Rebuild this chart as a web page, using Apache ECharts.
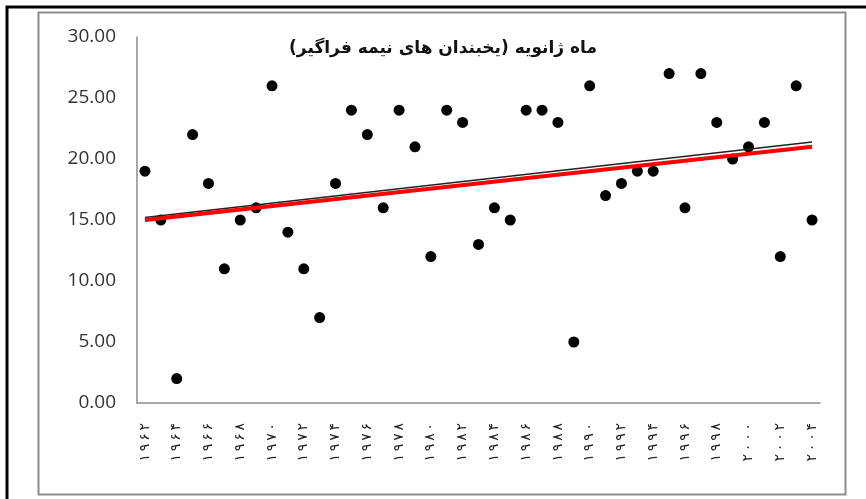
<!DOCTYPE html>
<html>
<head>
<meta charset="utf-8">
<script src="https://cdn.jsdelivr.net/npm/echarts@6/dist/echarts.min.js"></script>
<style>
  html, body { margin: 0; padding: 0; background: #fff; }
  #chart { width: 866px; height: 499px; }
</style>
</head>
<body>
<div id="chart"></div>
<script>
// years 1962..2004 in Persian digits
const years = [
  '۱۹۶۲', '۱۹۶۳', '۱۹۶۴', '۱۹۶۵', '۱۹۶۶', '۱۹۶۷', '۱۹۶۸', '۱۹۶۹', '۱۹۷۰', '۱۹۷۱',
  '۱۹۷۲', '۱۹۷۳', '۱۹۷۴', '۱۹۷۵', '۱۹۷۶', '۱۹۷۷', '۱۹۷۸', '۱۹۷۹', '۱۹۸۰', '۱۹۸۱',
  '۱۹۸۲', '۱۹۸۳', '۱۹۸۴', '۱۹۸۵', '۱۹۸۶', '۱۹۸۷', '۱۹۸۸', '۱۹۸۹', '۱۹۹۰', '۱۹۹۱',
  '۱۹۹۲', '۱۹۹۳', '۱۹۹۴', '۱۹۹۵', '۱۹۹۶', '۱۹۹۷', '۱۹۹۸', '۱۹۹۹', '۲۰۰۰', '۲۰۰۱',
  '۲۰۰۲', '۲۰۰۳', '۲۰۰۴',
]

// frost days (January, semi-widespread)
const frostDays = [
  19, 15, 2, 22, 18, 11, 15, 16, 26, 14,
  11, 7, 18, 24, 22, 16, 24, 21, 12, 24,
  23, 13, 16, 15, 24, 24, 23, 5, 26, 17,
  18, 19, 19, 27, 16, 27, 23, 20, 21, 23,
  12, 26, 15,
]

// trend line end points
const trendBlack = [['۱۹۶۲', 15.2], ['۲۰۰۴', 21.4]]
const trendRed = [['۱۹۶۲', 15.0], ['۲۰۰۴', 21.0]]

const yTicks = { min: 0, max: 30, interval: 5 }

const title = 'ماه ژانویه (یخبندان های نیمه فراگیر)'

const chart = echarts.init(document.getElementById('chart'))

const option = {
  animation: false,
  backgroundColor: '#fff',
  title: {
    text: title,
    left: 438,
    top: 35,
    textAlign: 'center',
    textStyle: {
      fontFamily: 'DejaVu Sans',
      fontSize: 17,
      fontWeight: 'bold',
      color: '#111',
    },
  },
  graphic: [
    // outer page border
    {
      type: 'polyline',
      silent: true,
      shape: { points: [[7, 499], [7, 7], [866, 7]] },
      style: { stroke: '#000', lineWidth: 3, fill: null },
    },
    // chart frame
    {
      type: 'rect',
      silent: true,
      shape: { x: 38.5, y: 12.5, width: 807, height: 482 },
      style: { stroke: '#8c8c8c', lineWidth: 2, fill: null },
    },
  ],
  grid: {
    left: 137,
    right: 46,
    top: 37,
    bottom: 96,
  },
  xAxis: {
    type: 'category',
    data: years,
    boundaryGap: true,
    axisLine: { lineStyle: { color: '#8c8c8c', width: 1.5 } },
    axisTick: { show: false },
    axisLabel: {
      interval: 1,
      rotate: 90,
      margin: 20,
      fontFamily: 'DejaVu Sans',
      fontSize: 14,
      color: '#222',
      // spread the digits a little, as in the original
      formatter: (v) => v.split('').join('\u2009'),
    },
  },
  yAxis: {
    type: 'value',
    min: yTicks.min,
    max: yTicks.max,
    interval: yTicks.interval,
    axisLine: { show: true, lineStyle: { color: '#8c8c8c', width: 1.5 } },
    axisTick: { show: false },
    splitLine: { show: false },
    axisLabel: {
      margin: 21,
      fontFamily: 'Open Sans',
      fontSize: 19,
      color: '#333',
      formatter: (v) => v.toFixed(2),
    },
  },
  series: [
    {
      type: 'line',
      data: trendBlack,
      symbol: 'none',
      lineStyle: { color: '#222', width: 1.5 },
      z: 3,
    },
    {
      type: 'line',
      data: trendRed,
      symbol: 'none',
      lineStyle: { color: '#ff0000', width: 4 },
      z: 4,
    },
    {
      type: 'scatter',
      data: frostDays,
      symbol: 'circle',
      symbolSize: 11,
      itemStyle: { color: '#000', opacity: 1 },
      z: 2,
    },
  ],
}

chart.setOption(option)
</script>
</body>
</html>
